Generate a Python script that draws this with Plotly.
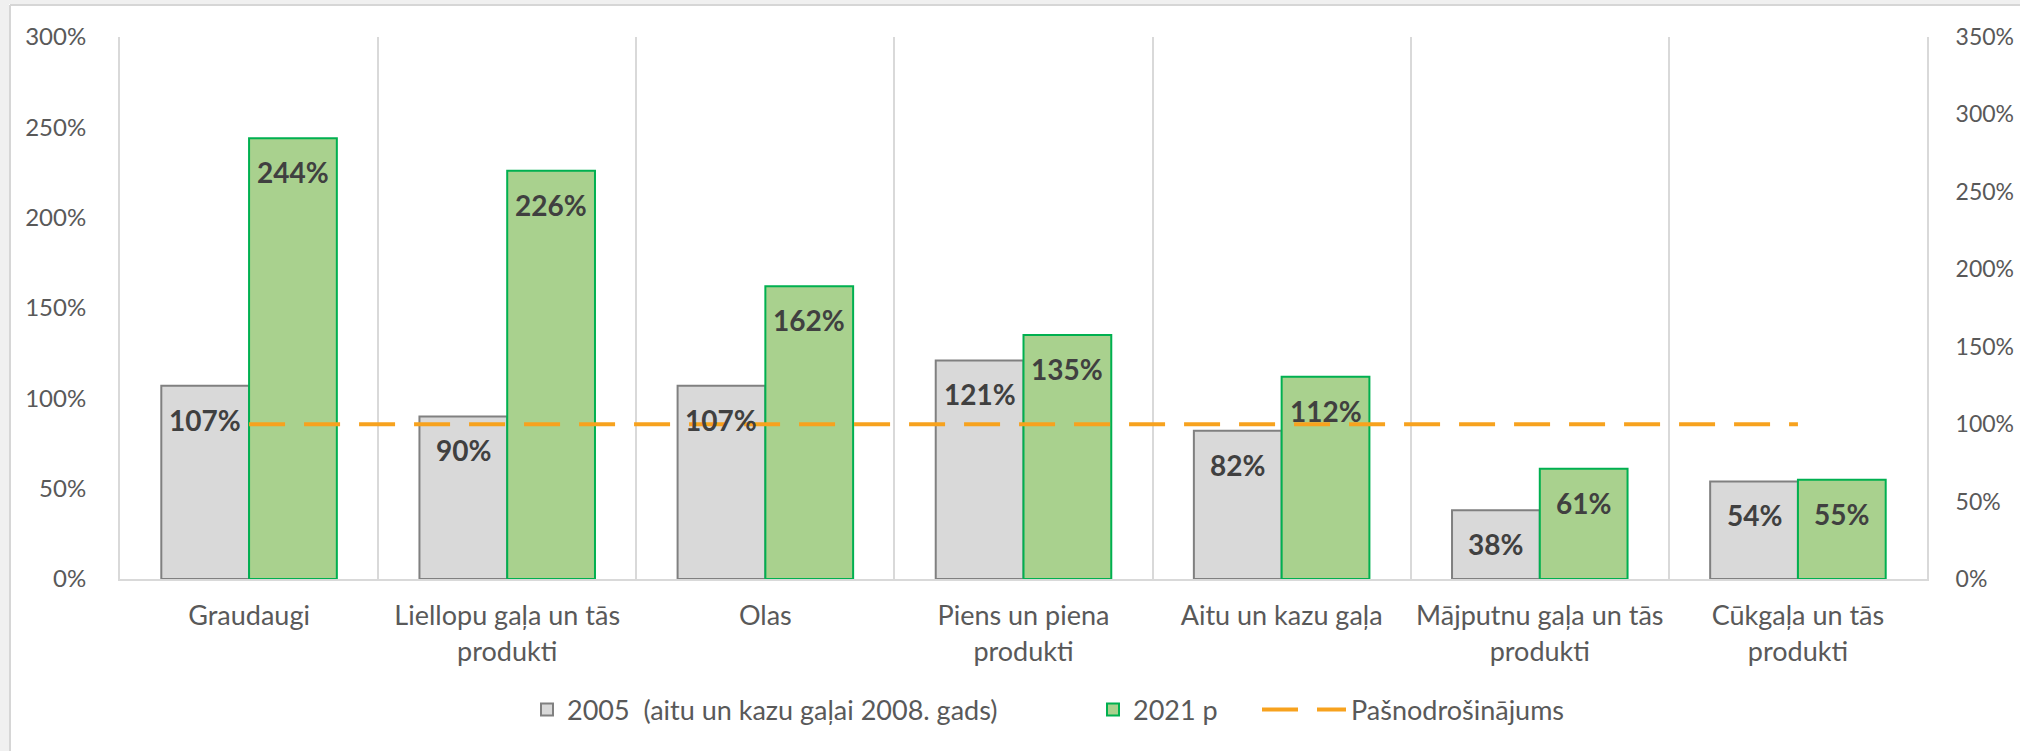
import plotly.graph_objects as go

# data
categories = ['Graudaugi', 'Liellopu gaļa un tās<br>produkti', 'Olas',
              'Piens un piena<br>produkti', 'Aitu un kazu gaļa',
              'Mājputnu gaļa un tās<br>produkti', 'Cūkgaļa un tās<br>produkti']
val_2005 = [107, 90, 107, 121, 82, 38, 54]
val_2021 = [244, 226, 162, 135, 112, 61, 55]
self_sufficiency = [100, 100, 100, 100, 100, 100, 100]

W, H = 2020, 751
L, R, T, B = 120, 93, 37, 172
pw, ph = W - L - R, H - T - B
FONT = 'Lato'
GREY_TXT = '#595959'


def px_x(v):
    return (v - L) / pw


def px_y(v):
    return (H - B - v) / ph


fig = go.Figure()
fig.add_bar(x=categories, y=val_2005, name='2005\u00a0 (aitu un kazu gaļai 2008. gads)',
            legend='legend',
            marker=dict(color='#d9d9d9', line=dict(color='#808080', width=2)))
fig.add_bar(x=categories, y=val_2021, name='2021 p', legend='legend2',
            marker=dict(color='#a9d18e', line=dict(color='#00b050', width=2)))
fig.add_scatter(x=categories, y=self_sufficiency, name='Pašnodrošinājums', yaxis='y2',
                legend='legend3', mode='lines',
                line=dict(color='#f7a21e', width=4, dash='36px,19px'))

# value labels just inside the top of each bar
bargap = 0.32
bar_w = pw / len(categories) * (1 - bargap) / 2
annotations = []
for vals, shift in ((val_2005, -bar_w / 2), (val_2021, bar_w / 2)):
    for c, v in zip(categories, vals):
        annotations.append(dict(x=c, y=v, text=f'<b>{v}%</b>', showarrow=False,
                                xshift=shift, yshift=-34, yanchor='middle',
                                font=dict(size=28, color='#404040', family=FONT)))

# light grey frame on the top and left edges
shapes = [
    dict(type='rect', xref='paper', yref='paper', x0=px_x(0), x1=px_x(9),
         y0=px_y(H), y1=px_y(0), fillcolor='#f0f0f0', line_width=0, layer='below'),
    dict(type='rect', xref='paper', yref='paper', x0=px_x(0), x1=px_x(W),
         y0=px_y(4), y1=px_y(0), fillcolor='#f0f0f0', line_width=0, layer='below'),
    dict(type='line', xref='paper', yref='paper', x0=px_x(10), x1=px_x(10),
         y0=px_y(H), y1=px_y(5), line=dict(color='#d6d6d6', width=2)),
    dict(type='line', xref='paper', yref='paper', x0=px_x(10), x1=px_x(W),
         y0=px_y(5), y1=px_y(5), line=dict(color='#d6d6d6', width=2)),
]

leg = dict(orientation='h', y=px_y(710), yanchor='middle',
           font=dict(size=27, color=GREY_TXT), bgcolor='rgba(0,0,0,0)')

fig.update_layout(
    width=W, height=H,
    margin=dict(l=L, r=R, t=T, b=B, autoexpand=False),
    paper_bgcolor='white', plot_bgcolor='white',
    font=dict(family=FONT, size=24, color=GREY_TXT),
    barmode='group', bargap=bargap, bargroupgap=0,
    annotations=annotations, shapes=shapes, showlegend=True,
    legend=dict(leg, x=px_x(567 - 40)),
    legend2=dict(leg, x=px_x(1133 - 40)),
    legend3=dict(leg, x=px_x(1349 - 92), itemwidth=84),
    xaxis=dict(tickson='boundaries', showgrid=True, gridcolor='#d9d9d9', gridwidth=2,
               showline=True, linecolor='#d9d9d9', linewidth=2, ticks='',
               automargin=False, ticklabelstandoff=12,
               tickfont=dict(size=27, color=GREY_TXT)),
    yaxis=dict(range=[0, 300], dtick=50, ticksuffix='%', showgrid=False, zeroline=False,
               showline=True, linecolor='#d9d9d9', linewidth=2, ticklabelstandoff=27,
               automargin=False, tickfont=dict(size=24, color=GREY_TXT)),
    yaxis2=dict(range=[0, 350], dtick=50, ticksuffix='%', overlaying='y', side='right',
                showgrid=False, zeroline=False, showline=True, linecolor='#d9d9d9',
                linewidth=2, ticklabelstandoff=22, automargin=False,
                tickfont=dict(size=23, color=GREY_TXT)),
)

# drop the default page margin so the figure sits flush in the window
fig.write_html('out.html', config={'displayModeBar': False},
               post_script="document.body.style.margin = '0';")
